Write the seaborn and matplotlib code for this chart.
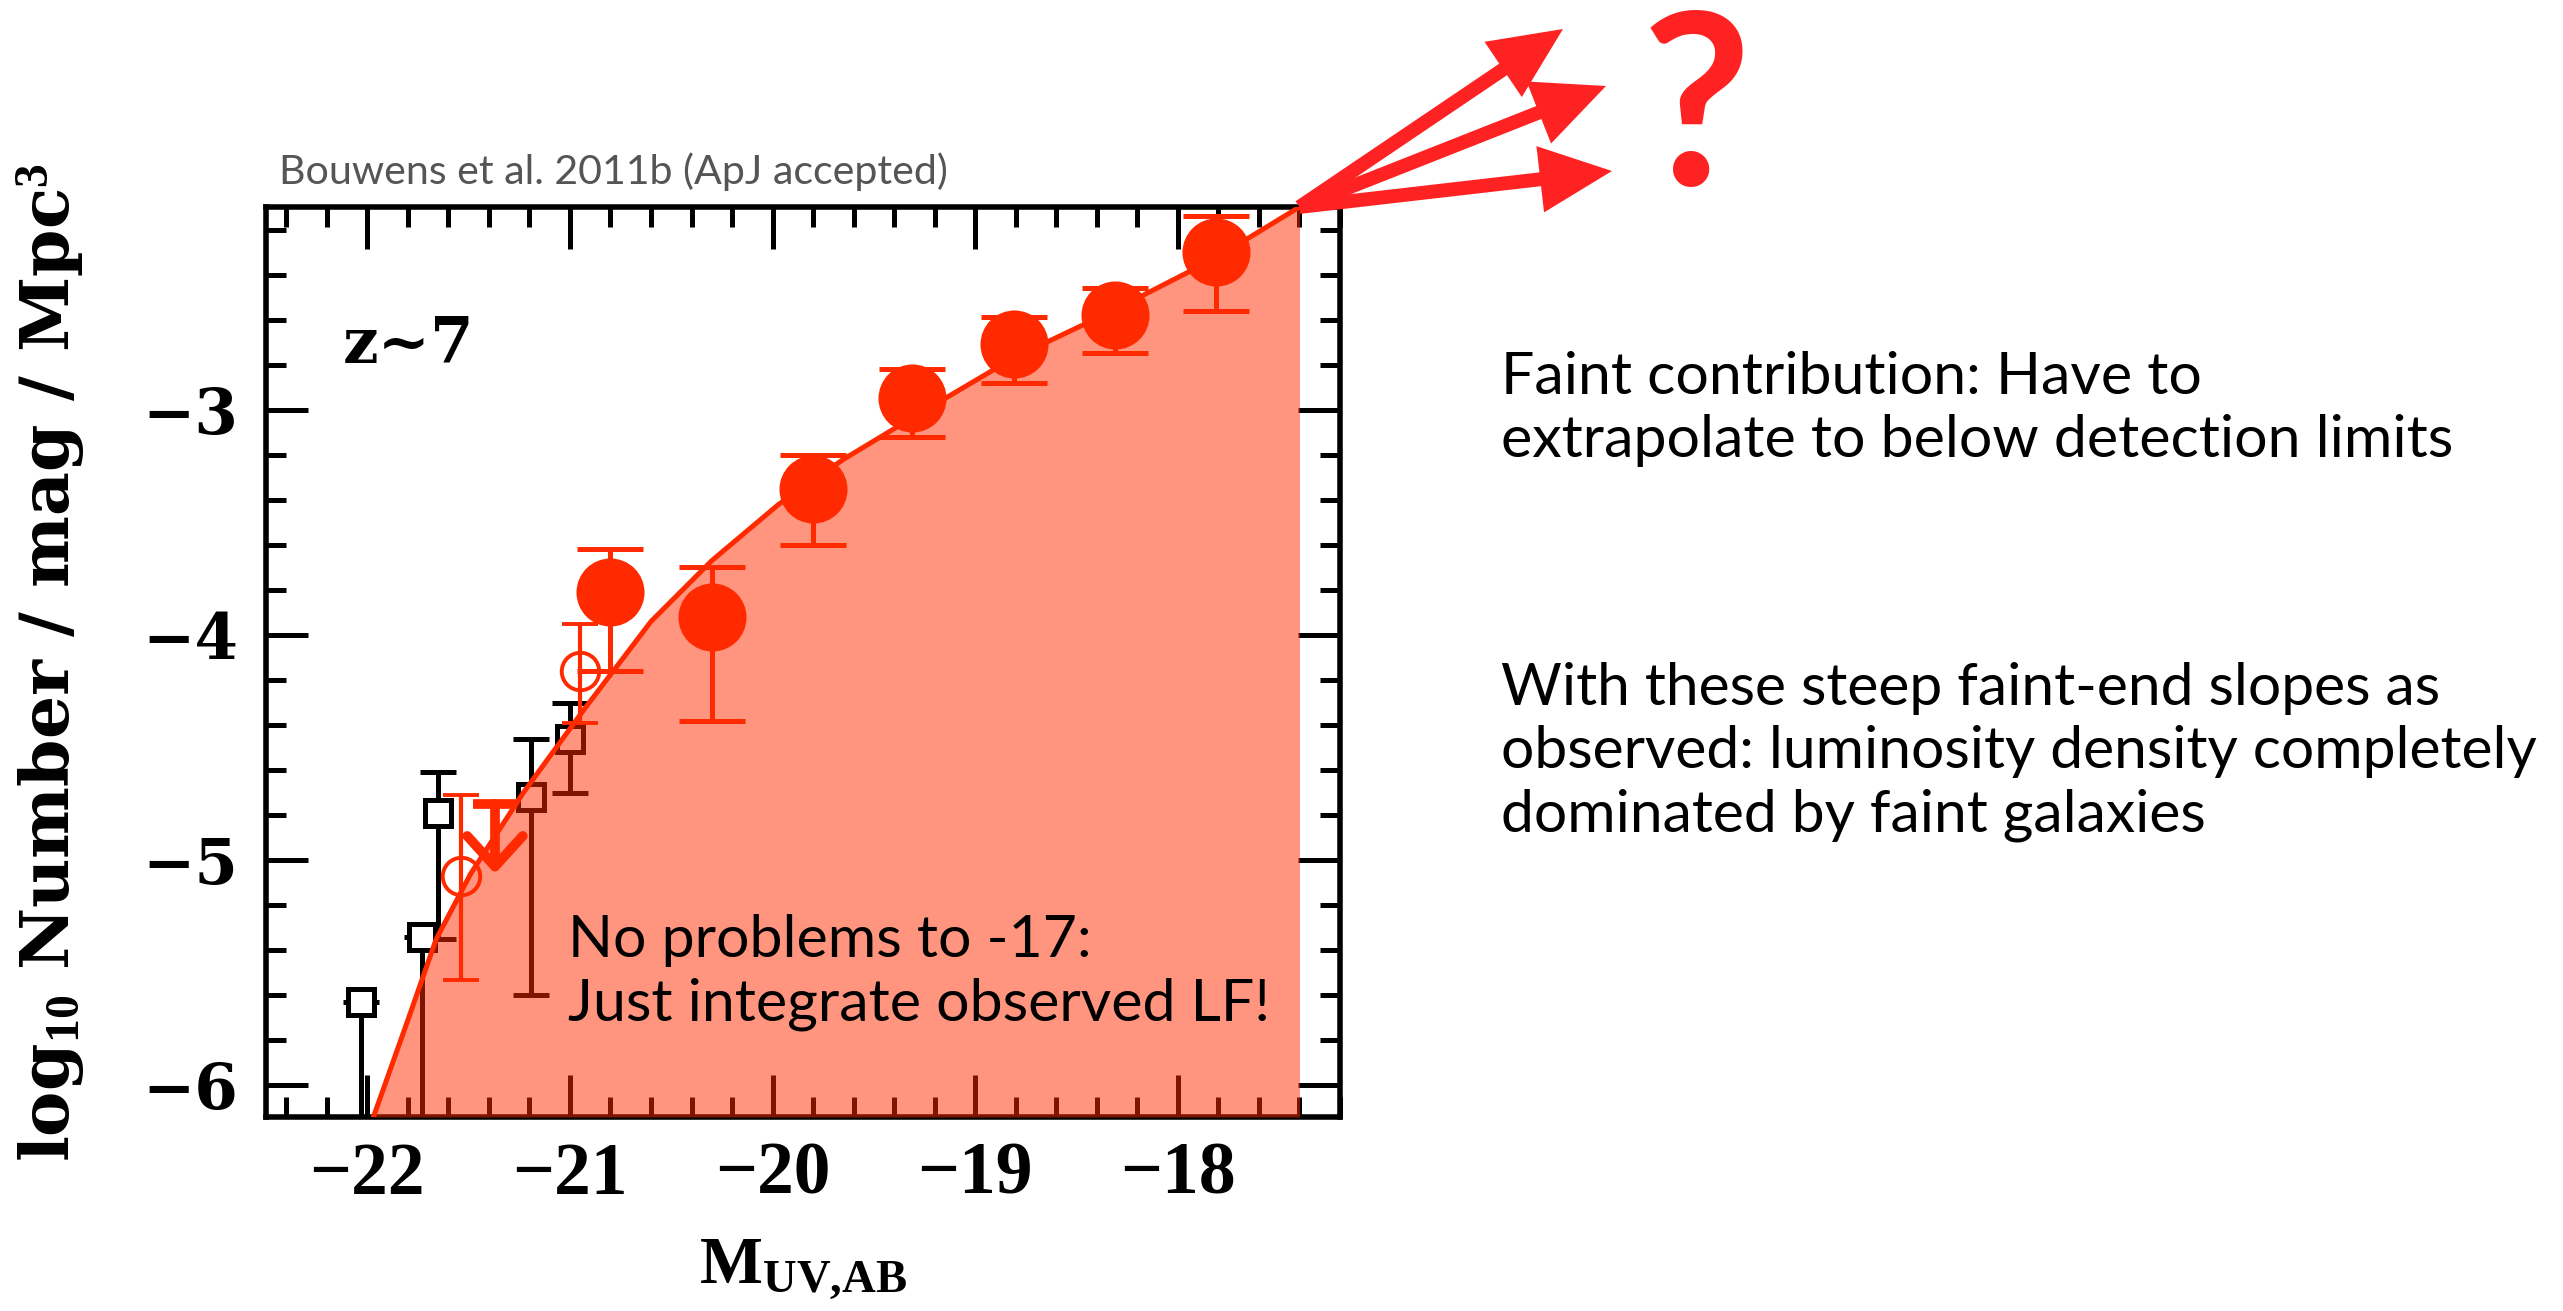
import matplotlib
matplotlib.use("Agg")
import matplotlib.pyplot as plt
from matplotlib.ticker import MultipleLocator
import numpy as np
import seaborn as sns

# ---------------- data ----------------
curve_M = [-21.97, -21.80, -21.66, -21.49, -21.23, -20.93, -20.60, -20.30,
           -19.97, -19.65, -19.30, -18.81, -18.32, -17.82, -17.40]
curve_logphi = [-6.14, -5.71, -5.35, -5.06, -4.70, -4.33, -3.94, -3.67,
                -3.42, -3.22, -3.03, -2.77, -2.56, -2.33, -2.10]

circ_M = [-20.80, -20.30, -19.80, -19.31, -18.81, -18.31, -17.81]
circ_logphi = [-3.81, -3.92, -3.35, -2.95, -2.71, -2.58, -2.30]
circ_lo = [-4.16, -4.38, -3.60, -3.12, -2.88, -2.75, -2.56]
circ_hi = [-3.62, -3.70, -3.20, -2.82, -2.59, -2.46, -2.14]

open_M = [-21.54, -20.95]
open_logphi = [-5.07, -4.16]
open_lo = [-5.53, -4.39]
open_hi = [-4.71, -3.95]

sq_M = [-22.03, -21.73, -21.65, -21.19, -21.00]
sq_logphi = [-5.63, -5.34, -4.79, -4.72, -4.46]
sq_lo = [-6.40, -6.40, -5.35, -5.60, -4.70]
sq_hi = [-5.63, -5.34, -4.61, -4.46, -4.30]

ul_M = [-21.37]
ul_logphi = [-4.75]
ul_tip = [-5.06]

x_ticks = [-22, -21, -20, -19, -18]
y_ticks = [-6, -5, -4, -3]

# ---------------- style ----------------
sns.set_theme(style="ticks")
plt.rcParams["font.family"] = ["DejaVu Serif", "DejaVu Sans"]
plt.rcParams["mathtext.fontset"] = "custom"
plt.rcParams["mathtext.rm"] = "Liberation Serif"
plt.rcParams["mathtext.it"] = "Liberation Serif:italic"
plt.rcParams["mathtext.bf"] = "Liberation Serif:bold"
plt.rcParams["axes.unicode_minus"] = True

RED = "#FF2A00"
ARROW_RED = "#FF2222"
W, H, DPI = 2563, 1311, 100

fig = plt.figure(figsize=(W / DPI, H / DPI), dpi=DPI)
fig.patch.set_facecolor("white")
ax = fig.add_axes([266 / W, 1 - 1117 / H, 1074 / W, 910 / H])
ax.set_facecolor("white")

XMIN, XMAX, YMIN, YMAX = -22.5, -17.2, -6.14, -2.10

# shaded integral region under the LF curve
ax.fill_between(curve_M, curve_logphi, YMIN, color=RED, alpha=0.5,
                linewidth=0, zorder=3)
sns.lineplot(x=curve_M, y=curve_logphi, color=RED, linewidth=3.6,
             ax=ax, zorder=3.5)

# black open squares (other data)
sq_y = np.array(sq_logphi)
ax.errorbar(sq_M, sq_y, yerr=[sq_y - np.array(sq_lo), np.array(sq_hi) - sq_y],
            fmt="s", ms=19, mfc="white", mec="black", mew=3.6,
            ecolor="black", elinewidth=3.6, capsize=13, capthick=3.6,
            zorder=2)

# red open circles
op_y = np.array(open_logphi)
ax.errorbar(open_M, op_y, yerr=[op_y - np.array(open_lo), np.array(open_hi) - op_y],
            fmt="o", ms=27, mfc="none", mec=RED, mew=2.8,
            ecolor=RED, elinewidth=3.0, capsize=13, capthick=3.0, zorder=4)

# red upper limit
ax.scatter(ul_M, ul_logphi, marker="_", s=31 ** 2, linewidths=7, color=RED,
           zorder=4)
for xm, yt, yb in zip(ul_M, ul_logphi, ul_tip):
    ax.annotate("", xy=(xm, yb), xytext=(xm, yt),
                arrowprops=dict(arrowstyle="->,head_length=0.55,head_width=0.5",
                                mutation_scale=40, lw=7, color=RED,
                                shrinkA=0, shrinkB=0), zorder=4)

# red filled circles (Bouwens et al. 2011b)
c_y = np.array(circ_logphi)
ax.errorbar(circ_M, c_y, yerr=[c_y - np.array(circ_lo), np.array(circ_hi) - c_y],
            fmt="none", ecolor=RED, elinewidth=3.6, capsize=24, capthick=3.6,
            zorder=4)
sns.scatterplot(x=circ_M, y=circ_logphi, s=49 ** 2, color=RED, linewidth=0,
                ax=ax, zorder=5)

# axes formatting
ax.set_xlim(XMIN, XMAX)
ax.set_ylim(YMIN, YMAX)
ax.set_xticks(x_ticks)
ax.set_yticks(y_ticks)
ax.xaxis.set_minor_locator(MultipleLocator(0.2))
ax.yaxis.set_minor_locator(MultipleLocator(0.2))
ax.tick_params(which="both", direction="in", top=True, right=True,
               width=3.6, color="black")
ax.tick_params(which="major", length=30)
ax.tick_params(which="minor", length=14.4)
ax.tick_params(axis="x", pad=18)
ax.tick_params(axis="y", pad=20)
for lab in ax.get_xticklabels():
    lab.set_fontfamily("Liberation Serif")
    lab.set_fontweight("bold")
    lab.set_fontsize(53)
    lab.set_color("black")
for lab in ax.get_yticklabels():
    lab.set_fontfamily("DejaVu Serif")
    lab.set_fontweight("bold")
    lab.set_fontsize(45)
    lab.set_color("black")
for sp in ax.spines.values():
    sp.set_linewidth(4)
    sp.set_color("black")

ax.set_xlabel(r"$\mathbf{M_{UV{,}AB}}$", fontsize=48, color="black")
ax.xaxis.set_label_coords(0.5, -0.131)
ax.set_ylabel(r"log$_{\mathbf{10}}$ Number / mag / Mpc$^{\mathbf{3}}$",
              fontsize=49, fontweight="bold", color="black",
              family="DejaVu Serif")
ax.yaxis.set_label_coords(-0.166, 0.5)

ax.text(0.0717, 0.848, "z~7", transform=ax.transAxes, ha="left", va="center",
        fontsize=45, fontweight="bold", family="DejaVu Serif", color="black",
        zorder=6)

# annotations (Gill-Sans-like text)
SANS = "Lato"
fig.text(279 / W, 1 - 152 / H, "Bouwens et al. 2011b (ApJ accepted)",
         ha="left", va="top", fontsize=29.6, color="#555555", family=SANS)
fig.text(568 / W, 1 - 914 / H, "No problems to -17:\nJust integrate observed LF!",
         ha="left", va="top", fontsize=42.5, color="black", family=SANS,
         linespacing=1.24, zorder=7)
fig.text(1501 / W, 1 - 351 / H,
         "Faint contribution: Have to\nextrapolate to below detection limits",
         ha="left", va="top", fontsize=42.5, color="black", family=SANS,
         linespacing=1.24)
fig.text(1501 / W, 1 - 662 / H,
         "With these steep faint-end slopes as\nobserved: luminosity density completely\ndominated by faint galaxies",
         ha="left", va="top", fontsize=42.3, color="black", family=SANS,
         linespacing=1.24)

# extrapolation arrows from the faint end of the LF
tips_px = [(1563, H - 29), (1606, H - 86), (1612, H - 171)]
for tx, ty in tips_px:
    ax.annotate("", xy=(tx, ty), xycoords="figure pixels",
                xytext=(curve_M[-1], curve_logphi[-1]), textcoords="data",
                arrowprops=dict(arrowstyle="simple,head_length=5.2,head_width=4.8,tail_width=1.0",
                                mutation_scale=10, fc=ARROW_RED, ec="none",
                                shrinkA=0, shrinkB=0),
                annotation_clip=False, zorder=8)
fig.text(1697 / W, 1 - 185 / H, "?", ha="center", va="baseline", fontsize=172,
         fontweight="bold", color=ARROW_RED, family=SANS)

fig.savefig("out.png", dpi=DPI, facecolor="white")
